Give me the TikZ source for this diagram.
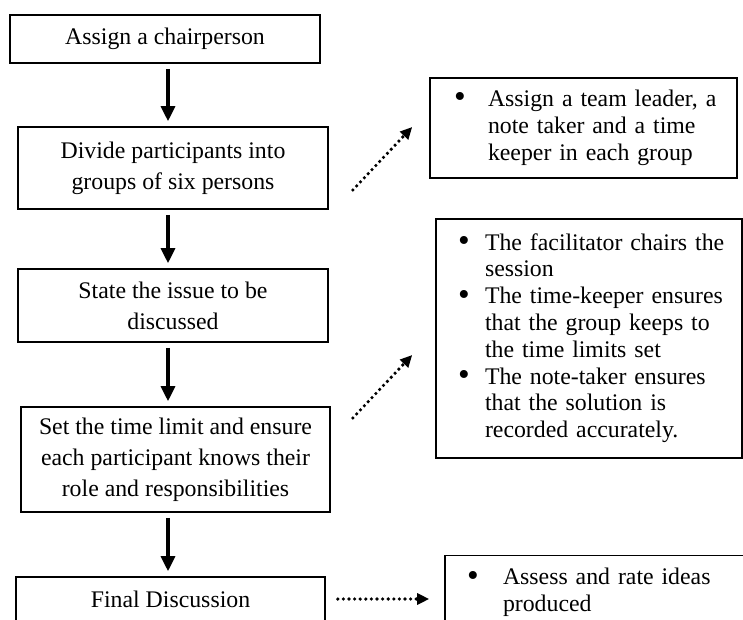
\documentclass[tikz,border=0pt]{standalone}
\usepackage{fontspec}
\setmainfont{Liberation Serif}
\usetikzlibrary{arrows.meta,calc}
\newcommand{\blt}{\raisebox{-0.06em}{\scalebox{1.4}{\textbullet}}}
\tikzset{
  box/.style={draw,line width=1.6pt,inner sep=0pt,align=center,
    font=\fontsize{23.8}{31}\selectfont},
  note/.style={draw,line width=1.6pt,inner sep=0pt,align=left,
    font=\fontsize{23.8}{26.8}\selectfont},
  flow/.style={line width=3.2pt,-{Triangle[length=15pt,width=14pt]},
    shorten <=5pt,shorten >=5pt},
  hint/.style={line width=3.6pt,line cap=round,dash pattern=on 0pt off 5.6pt,
    -{Triangle[length=12pt,width=11pt]}}
}

\begin{document}
\begin{tikzpicture}[x=1pt,y=-1pt]
  \path[use as bounding box,fill=white] (0,0) rectangle (743,620);

  % Main steps of the session
  \node[box,minimum width=310pt,minimum height=48pt] (chair) at (165,39)
    {Assign a chairperson};
  \node[box,minimum width=310pt,minimum height=82pt] (divide) at (173,168)
    {Divide participants into\\groups of six persons};
  \node[box,minimum width=310pt,minimum height=73pt] (issue) at (173,305.5)
    {State the issue to be\\discussed};
  \node[box,minimum width=309pt,minimum height=105pt] (limit) at (175.5,459.5)
    {Set the time limit and ensure\\each participant knows their\\role and responsibilities};
  \node[box,minimum width=309pt,minimum height=44pt] (final) at (170.5,599)
    {Final Discussion};

  % Notes on the right
  \node[note,text width=307pt,minimum height=100pt] (roles) at (583.5,128)
    {\begin{tabular}{@{\hspace{24pt}}p{34pt}@{}l@{}}
      \blt & Assign a team leader, a\\
           & note taker and a time\\
           & keeper in each group
    \end{tabular}};
  \node[note,text width=306pt,minimum height=239pt] (duties) at (589,338.5)
    {\begin{tabular}{@{\hspace{22pt}}p{27pt}@{}l@{}}
      \blt & The facilitator chairs the\\
           & session\\
      \blt & The time-keeper ensures\\
           & that the group keeps to\\
           & the time limits set\\
      \blt & The note-taker ensures\\
           & that the solution is\\
           & recorded accurately.
    \end{tabular}};
  \node[note,text width=300pt,minimum height=75pt] (assess) at (595,593)
    {\begin{tabular}{@{\hspace{22pt}}p{36pt}@{}l@{}}
      \blt & Assess and rate ideas\\
           & produced
    \end{tabular}};

  % Connectors
  \coordinate (axis) at (168,0);
  \draw[flow] (chair.south -| axis) -- (divide.north -| axis);
  \draw[flow] (divide.south -| axis) -- (issue.north -| axis);
  \draw[flow] (issue.south -| axis) -- (limit.north -| axis);
  \draw[flow] (limit.south -| axis) -- (final.north -| axis);

  \draw[hint] ($(divide.east)+(24,22)$) -- ($(roles.west)+(-17,-1)$);
  \draw[hint] ($(limit.east)+(22,-41.5)$) -- ($(duties.west)+(-23,16.5)$);
  \draw[hint,shorten <=12pt,shorten >=15pt] (final.east) -- (assess.west |- final.east);
\end{tikzpicture}
\end{document}
